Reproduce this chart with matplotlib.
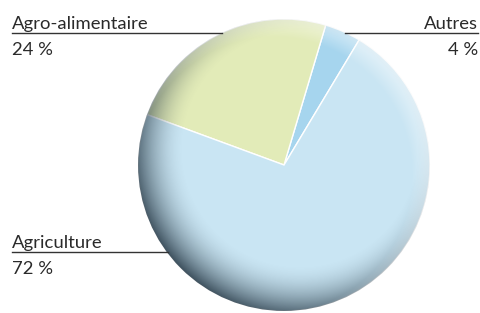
import matplotlib
matplotlib.use('Agg')
import matplotlib.pyplot as plt
import numpy as np
from matplotlib.patches import Circle

labels = ['Autres', 'Agro-alimentaire', 'Agriculture']
values = [4, 24, 72]
pct_labels = ['4 %', '24 %', '72 %']
colors = ['#a6d5ee', '#e2ebb8', '#c9e5f3']

W, H = 480, 313
fig = plt.figure(figsize=(W / 100., H / 100.), dpi=100)
ax = fig.add_axes([0, 0, 1, 1])

cx, cy, R = 284, 148, 146
wedges, _ = ax.pie(values, colors=colors, startangle=59, counterclock=True,
                   center=(cx, cy), radius=R,
                   wedgeprops=dict(edgecolor='white', linewidth=1.0))

# inner shadow along the lower-left rim
x0, x1, y0, y1 = cx - R, cx + R, cy - R, cy + R
xs = np.linspace(x0, x1, 400)
ys = np.linspace(y0, y1, 400)
X, Y = np.meshgrid(xs, ys)
off = 16
d2 = np.hypot(X - (cx + off), Y - (cy + off))
a = np.clip((d2 - R + 30) / 52., 0, 1) ** 1.8 * 0.85
shade = np.zeros(X.shape + (4,))
shade[..., 0] = 0.16
shade[..., 1] = 0.23
shade[..., 2] = 0.28
shade[..., 3] = a
im = ax.imshow(shade, extent=(x0, x1, y0, y1), origin='lower', zorder=3,
               interpolation='bilinear')
im.set_clip_path(Circle((cx, cy), R, transform=ax.transData))

# light rim on the upper right
d3 = np.hypot(X - (cx - 10), Y - (cy - 10))
b = np.clip((d3 - R + 8) / 22., 0, 1) * 0.5
glow = np.ones(X.shape + (4,))
glow[..., 3] = b
im2 = ax.imshow(glow, extent=(x0, x1, y0, y1), origin='lower', zorder=4,
                interpolation='bilinear')
im2.set_clip_path(Circle((cx, cy), R, transform=ax.transData))

font = ['Lato', 'DejaVu Sans']
fs = 13.3
lc = '#333333'
tc = '#2a2a2a'

# Agro-alimentaire
ax.plot([12, 222], [H - 33, H - 33], color=lc, lw=1, zorder=5)
ax.text(12, H - 29, labels[1], ha='left', va='baseline', fontsize=fs,
        family=font, color=tc)
ax.text(12, H - 55, pct_labels[1], ha='left', va='baseline', fontsize=fs,
        family=font, color=tc)

# Autres
ax.plot([345, 478], [H - 33, H - 33], color=lc, lw=1, zorder=5)
ax.text(478, H - 29, labels[0], ha='right', va='baseline', fontsize=fs,
        family=font, color=tc)
ax.text(478, H - 55, pct_labels[0], ha='right', va='baseline', fontsize=fs,
        family=font, color=tc)

# Agriculture
ax.plot([12, 168], [H - 252, H - 252], color=lc, lw=1, zorder=5)
ax.text(12, H - 248, labels[2], ha='left', va='baseline', fontsize=fs,
        family=font, color=tc)
ax.text(12, H - 274, pct_labels[2], ha='left', va='baseline', fontsize=fs,
        family=font, color=tc)

ax.set_xlim(0, W)
ax.set_ylim(0, H)
ax.set_aspect('auto')
ax.axis('off')

plt.savefig('out.png', dpi=100)
